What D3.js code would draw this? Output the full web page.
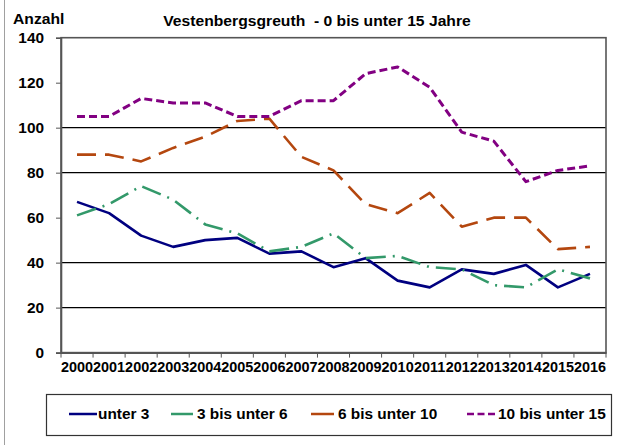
<!DOCTYPE html>
<html><head><meta charset="utf-8">
<script src="https://cdn.jsdelivr.net/npm/d3@7"></script>
<style>body{margin:0;background:#fff}svg{display:block;font-family:"Liberation Sans",Arial,sans-serif}</style>
</head><body><svg id="c" width="621" height="445"></svg>
<script>
const years = ["2000","2001","2002","2003","2004","2005","2006","2007","2008","2009","2010","2011","2012","2013","2014","2015","2016"];
const unter3   = [67,62,52,47,50,51,44,45,38,42,32,29,37,35,39,29,35];
const bis6     = [61,66,74,68,57,53,45,47,53,42,43,38,37,30,29,37,33];
const bis10    = [88,88,85,91,96,103,104,87,81,66,62,71,56,60,60,46,47];
const bis15    = [105,105,113,111,111,105,105,112,112,124,127,118,98,94,76,81,83];
const seriesNames = ["unter 3","3 bis unter 6","6 bis unter 10","10 bis unter 15"];
const yTicks = [0,20,40,60,80,100,120,140];
const gridValues = [20,40,80,100];
const titleText = "Vestenbergsgreuth  - 0 bis unter 15 Jahre";
const yAxisTitle = "Anzahl";

const styles = [
  {color:"#000080", dash:null, w:2.6},
  {color:"#33996a", dash:"20,7,2,7", w:2.6},
  {color:"#b4470f", dash:"19,9", w:2.6},
  {color:"#820082", dash:"8,4", w:3}
];
const seriesData = [unter3,bis6,bis10,bis15];

const svg = d3.select("#c");
const L=61, R=606, T=37.7, B=352.6;
const x = d3.scaleBand().domain(years).range([L,R]);
const y = d3.scaleLinear().domain([0,140]).range([B,T]);
const cx = d => x(d)+x.bandwidth()/2;
const font = "bold 14px 'Liberation Sans', Arial, sans-serif";
function stretch(sel, sx){
  sel.each(function(){
    const t=d3.select(this); const xv=+(t.attr("x")||0);
    t.attr("x", xv/sx).attr("transform", `scale(${sx},1)`);
  });
}

// outer left border
svg.append("line").attr("x1",4.5).attr("x2",4.5).attr("y1",0).attr("y2",445).attr("stroke","#a0a0a0").attr("stroke-width",1);

// gridlines
svg.append("g").selectAll("line").data(gridValues).join("line")
  .attr("x1",L).attr("x2",R).attr("y1",d=>y(d)).attr("y2",d=>y(d))
  .attr("stroke","#000").attr("stroke-width",1.2);

// frame
svg.append("rect").attr("x",L).attr("y",T).attr("width",R-L).attr("height",B-T)
  .attr("fill","none").attr("stroke","#555").attr("stroke-width",1.6);

// y axis
const ya = svg.append("g").attr("transform",`translate(${L},0)`)
  .call(d3.axisLeft(y).tickValues(yTicks).tickSize(5).tickPadding(12).tickFormat(d3.format("d")));
ya.select(".domain").attr("stroke","#555").attr("stroke-width",1.6);
ya.selectAll(".tick line").attr("stroke","#555");
ya.selectAll("text").style("font",font).attr("fill","#000");
stretch(ya.selectAll("text"),1.1);

// x axis
const xa = svg.append("g").attr("transform",`translate(0,${B})`)
  .call(d3.axisBottom(x).tickSize(0).tickPadding(9));
xa.select(".domain").attr("stroke","#555").attr("stroke-width",1.6);
xa.selectAll("text").style("font",font).attr("fill","#000");
stretch(xa.selectAll("text"),1.03);
// ticks between categories
const bounds = years.map(d=>x(d)).concat([R]);
svg.append("g").selectAll("line").data(bounds).join("line")
  .attr("x1",d=>d).attr("x2",d=>d).attr("y1",B).attr("y2",B+5)
  .attr("stroke","#555").attr("stroke-width",1);

// lines
const line = d3.line().x((v,i)=>cx(years[i])).y(v=>y(v));
seriesData.forEach((s,i)=>{
  svg.append("path").datum(s).attr("d",line).attr("fill","none")
    .attr("stroke",styles[i].color).attr("stroke-width",styles[i].w)
    .attr("stroke-dasharray",styles[i].dash).attr("stroke-linejoin","round");
});

// titles
const at = svg.append("text").attr("x",13).attr("y",24).style("font",font).text(yAxisTitle);
stretch(at,1.12);
const tt = svg.append("text").attr("x",317).attr("y",26).attr("text-anchor","middle").style("font",font).text(titleText).style("white-space","pre");
tt.attr("xml:space","preserve");
stretch(tt,1.12);

// legend
svg.append("rect").attr("x",46.5).attr("y",394.5).attr("width",565).attr("height",41)
  .attr("fill","none").attr("stroke","#333").attr("stroke-width",1.2);
const legLayout = [
  {x1:69,x2:97,tx:98, dash:null},
  {x1:171,x2:193,tx:197, dash:null},
  {x1:311,x2:334,tx:338, dash:null},
  {x1:467,x2:497,tx:498, dash:"7,3.5"}
];
seriesNames.forEach((n,i)=>{
  const l = legLayout[i];
  svg.append("line").attr("x1",l.x1).attr("x2",l.x2).attr("y1",414).attr("y2",414)
    .attr("stroke",styles[i].color).attr("stroke-width",2.5).attr("stroke-dasharray",l.dash);
  const t = svg.append("text").attr("x",l.tx).attr("y",419).style("font",font).text(n);
  stretch(t,1.1);
});
</script></body></html>
